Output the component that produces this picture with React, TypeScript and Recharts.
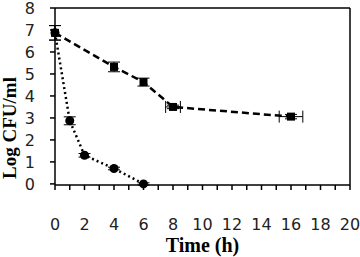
import {
  ComposedChart,
  Scatter,
  XAxis,
  YAxis,
  ErrorBar,
  ReferenceLine,
  Label,
} from "recharts";

// time (h), log CFU/ml, errors
const timeA = [0, 4, 6, 8, 16];
const logA = [6.87, 5.32, 4.63, 3.5, 3.06];
const errYA = [0.33, 0.22, 0.18, 0.08, 0.1];
const errXA = [0, 0, 0, 0.5, 0.8];

const timeB = [0, 1, 2, 4, 6];
const logB = [6.87, 2.87, 1.3, 0.7, 0];
const errYB = [0.33, 0.18, 0.08, 0.06, 0.05];

const xTicks = [0, 1, 2, 3, 4, 5, 6, 7, 8, 9, 10, 11, 12, 13, 14, 15, 16, 17, 18, 19, 20];
const yTicks = [0, 1, 2, 3, 4, 5, 6, 7, 8];

const toRows = (x: number[], y: number[], ey: number[], ex?: number[]) =>
  x.map((t, i) => ({ t, v: y[i], ey: ey[i], ex: ex ? ex[i] : 0 }));

const seriesA = toRows(timeA, logA, errYA, errXA);
const seriesB = toRows(timeB, logB, errYB);

const tickFont = { fontSize: 16, fill: "#222", fontFamily: "DejaVu Sans" };
const titleFont = { fontFamily: "Liberation Serif", fontWeight: 700, fill: "#000" };

export default function App() {
  return (
    <div style={{ position: "absolute", left: 0, top: 0, background: "#fff" }}>
      <ComposedChart width={360} height={257} margin={{ top: 8, right: 10, bottom: 0, left: 0 }}>
        <XAxis
          type="number"
          dataKey="t"
          domain={[0, 20]}
          ticks={xTicks}
          interval={0}
          tickFormatter={(v) => (v % 2 === 0 ? String(v) : "")}
          tick={tickFont}
          tickSize={5}
          tickMargin={29}
          height={72}
          stroke="#000"
          strokeWidth={1.5}
        >
          <Label
            content={({ viewBox }: any) => (
              <text
                x={viewBox.x + viewBox.width / 2}
                y={252}
                textAnchor="middle"
                fontSize={20}
                {...titleFont}
              >
                Time (h)
              </text>
            )}
          />
        </XAxis>
        <YAxis
          type="number"
          dataKey="v"
          domain={[0, 8]}
          ticks={yTicks}
          interval={0}
          tick={tickFont}
          tickSize={5}
          tickMargin={15}
          width={55}
          stroke="#000"
          strokeWidth={1.5}
        >
          <Label
            content={() => (
              <text
                x={16}
                y={128}
                textAnchor="middle"
                fontSize={19}
                transform="rotate(-90, 16, 128)"
                {...titleFont}
              >
                Log CFU/ml
              </text>
            )}
          />
        </YAxis>
        <ReferenceLine y={8} stroke="#000" strokeWidth={1.5} />
        <ReferenceLine x={20} stroke="#000" strokeWidth={1.5} />
        <Scatter
          data={seriesA}
          dataKey="v"
          shape="square"
          fill="#000"
          line={{ stroke: "#000", strokeWidth: 2.5, strokeDasharray: "7 4" }}
          lineType="joint"
          isAnimationActive={false}
        >
          <ErrorBar dataKey="ey" direction="y" width={6} stroke="#000" strokeWidth={1} />
          <ErrorBar dataKey="ex" direction="x" width={6} stroke="#000" strokeWidth={1} />
        </Scatter>
        <Scatter
          data={seriesB}
          dataKey="v"
          shape="circle"
          fill="#000"
          line={{ stroke: "#000", strokeWidth: 2.5, strokeDasharray: "2 3" }}
          lineType="joint"
          isAnimationActive={false}
        >
          <ErrorBar dataKey="ey" direction="y" width={6} stroke="#000" strokeWidth={1} />
        </Scatter>
      </ComposedChart>
    </div>
  );
}
